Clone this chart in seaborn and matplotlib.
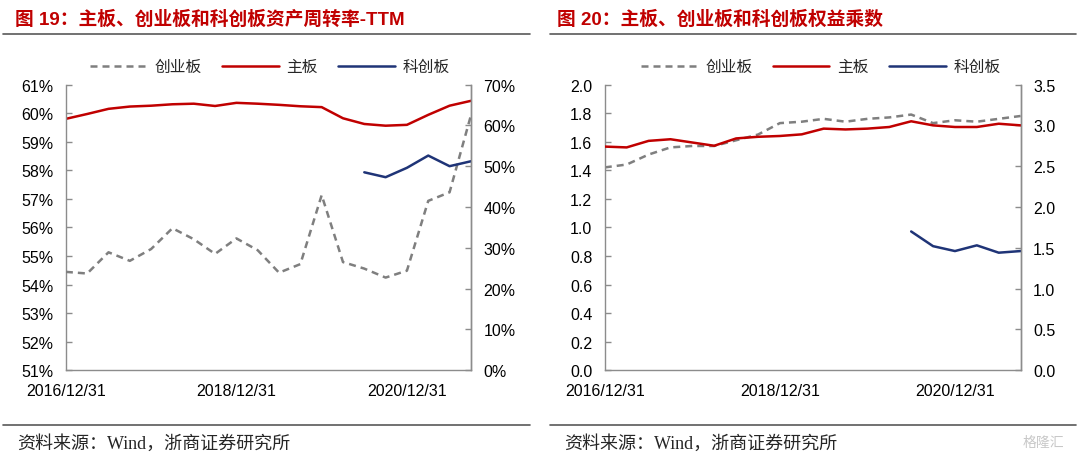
import numpy as np
import pandas as pd
import matplotlib
matplotlib.use("Agg")
import matplotlib.pyplot as plt
from matplotlib.lines import Line2D
from matplotlib.ticker import FuncFormatter
import seaborn as sns

# -------------------------------------------------
# 1. DATA (quarterly, 2016/12/31 - 2021/09/30)
# -------------------------------------------------
quarters = ["2016/12/31", "2017/03/31", "2017/06/30", "2017/09/30",
            "2017/12/31", "2018/03/31", "2018/06/30", "2018/09/30",
            "2018/12/31", "2019/03/31", "2019/06/30", "2019/09/30",
            "2019/12/31", "2020/03/31", "2020/06/30", "2020/09/30",
            "2020/12/31", "2021/03/31", "2021/06/30", "2021/09/30"]
tick_labels = ["2016/12/31", "2018/12/31", "2020/12/31"]

# asset turnover TTM (%)
main_turnover = [59.80, 59.97, 60.15, 60.23, 60.26, 60.31, 60.33, 60.25, 60.36, 60.33,
                 60.29, 60.24, 60.21, 59.82, 59.62, 59.56, 59.59, 59.94, 60.26, 60.43]
gem_turnover = [24.1, 23.7, 28.9, 26.8, 29.7, 34.8, 32.1, 28.5, 32.3, 29.4,
                23.9, 26.0, 42.9, 26.5, 24.9, 22.7, 24.4, 41.5, 43.6, 62.4]
star_turnover = [np.nan] * 14 + [48.5, 47.3, 49.6, 52.6, 50.0, 51.2]

# equity multiplier
main_em = [2.74, 2.73, 2.81, 2.83, 2.79, 2.75, 2.84, 2.86, 2.87, 2.89,
           2.96, 2.95, 2.96, 2.98, 3.05, 3.00, 2.98, 2.98, 3.02, 3.00]
gem_em = [1.42, 1.44, 1.51, 1.56, 1.57, 1.57, 1.61, 1.65, 1.73, 1.74,
          1.76, 1.74, 1.76, 1.77, 1.79, 1.73, 1.75, 1.74, 1.76, 1.78]
star_em = [np.nan] * 14 + [1.70, 1.52, 1.46, 1.53, 1.44, 1.46]

# -------------------------------------------------
# 2. STYLE
# -------------------------------------------------
sns.set_theme(style="white")
plt.rcParams["font.family"] = ["Liberation Sans", "Noto Sans CJK SC", "DejaVu Sans"]

RED = "#C00000"
NAVY = "#1F3477"
GRAY = "#7F7F7F"
SPINE = "#8C8C8C"
CJK = ["Noto Sans CJK SC", "DejaVu Sans"]

pos = list(range(len(quarters)))
df = pd.DataFrame({"pos": pos, "quarter": quarters,
                   "main_t": main_turnover, "gem_t": gem_turnover, "star_t": star_turnover,
                   "main_e": main_em, "gem_e": gem_em, "star_e": star_em})

fig = plt.figure(figsize=(10.8, 4.6), dpi=100)
ax_l = fig.add_axes([0.061, 0.193, 0.375, 0.621])
ax_r = fig.add_axes([0.560, 0.193, 0.385, 0.621])


def style_axes(ax, ax2):
    for a in (ax, ax2):
        for side in ["left", "right", "bottom"]:
            a.spines[side].set_color(SPINE)
            a.spines[side].set_linewidth(1.0)
        a.spines["top"].set_visible(False)
        a.tick_params(axis="both", direction="in", length=4, width=1,
                      color=SPINE, labelsize=11.5, labelcolor="black")
    ax.tick_params(axis="y", pad=9)
    ax2.tick_params(axis="y", pad=9)
    ax.tick_params(axis="x", pad=9)
    ax.set_xlim(0, len(quarters) - 1)
    ax.set_xticks([quarters.index(t) for t in tick_labels])
    ax.set_xticklabels(tick_labels)
    ax.set_xlabel("")
    ax.set_ylabel("")
    ax2.set_ylabel("")
    ax2.spines["left"].set_visible(False)
    ax2.spines["bottom"].set_visible(False)


# -------------------------------------------------
# 3. LEFT: ASSET TURNOVER
# -------------------------------------------------
ax_l2 = ax_l.twinx()
sns.lineplot(data=df, x="pos", y="main_t", ax=ax_l, color=RED, lw=1.8)
sns.lineplot(data=df, x="pos", y="gem_t", ax=ax_l2, color=GRAY, lw=1.8)
ax_l2.lines[-1].set_dashes([2.8, 2.0])
sns.lineplot(data=df.dropna(subset=["star_t"]), x="pos", y="star_t", ax=ax_l2, color=NAVY, lw=1.8)

ax_l.set_ylim(51, 61)
ax_l.set_yticks(range(51, 62))
ax_l.yaxis.set_major_formatter(FuncFormatter(lambda v, p: f"{v:.0f}%"))
ax_l2.set_ylim(0, 70)
ax_l2.set_yticks(range(0, 71, 10))
ax_l2.yaxis.set_major_formatter(FuncFormatter(lambda v, p: f"{v:.0f}%"))
style_axes(ax_l, ax_l2)

# -------------------------------------------------
# 4. RIGHT: EQUITY MULTIPLIER
# -------------------------------------------------
ax_r2 = ax_r.twinx()
sns.lineplot(data=df, x="pos", y="gem_e", ax=ax_r, color=GRAY, lw=1.8)
ax_r.lines[-1].set_dashes([2.8, 2.0])
sns.lineplot(data=df, x="pos", y="main_e", ax=ax_r2, color=RED, lw=1.8)
sns.lineplot(data=df.dropna(subset=["star_e"]), x="pos", y="star_e", ax=ax_r2, color=NAVY, lw=1.8)

ax_r.set_ylim(0, 2.0)
ax_r.set_yticks(np.arange(0, 2.01, 0.2))
ax_r.yaxis.set_major_formatter(FuncFormatter(lambda v, p: f"{v:.1f}"))
ax_r2.set_ylim(0, 3.5)
ax_r2.set_yticks(np.arange(0, 3.51, 0.5))
ax_r2.yaxis.set_major_formatter(FuncFormatter(lambda v, p: f"{v:.1f}"))
style_axes(ax_r, ax_r2)

# -------------------------------------------------
# 5. LEGENDS, TITLES, RULES, SOURCES
# -------------------------------------------------
handles = [Line2D([], [], color=GRAY, lw=1.8, dashes=[2.8, 2.0]),
           Line2D([], [], color=RED, lw=1.8),
           Line2D([], [], color=NAVY, lw=1.8)]
names = ["创业板", "主板", "科创板"]
for cx in (0.250, 0.760):
    fig.legend(handles, names, loc="center", bbox_to_anchor=(cx, 0.853), ncol=3,
               frameon=False, handlelength=3.6, handletextpad=0.5, columnspacing=1.3,
               prop={"family": CJK, "size": 11.3})

titles = [(0.014, "图 19：主板、创业板和科创板资产周转率-TTM"),
          (0.516, "图 20：主板、创业板和科创板权益乘数")]
for x, t in titles:
    fig.text(x, 0.958, t, color=RED, fontsize=13.5, fontweight="bold",
             family=["Liberation Sans", "Noto Sans CJK SC"], va="center", ha="left")

for x0, x1 in ((0.003, 0.491), (0.509, 0.996)):
    fig.add_artist(Line2D([x0, x1], [0.923, 0.923], color="#595959", lw=1.2))
    fig.add_artist(Line2D([x0, x1], [0.074, 0.074], color="#595959", lw=1.2))

for x in (0.016, 0.522):
    fig.text(x, 0.036, "资料来源：Wind，浙商证券研究所", fontsize=13,
             family=["Liberation Serif", "Noto Sans CJK SC"], va="center", ha="left")

fig.text(0.985, 0.036, "格隆汇", fontsize=10, color="#C8C8C8",
         family=CJK, va="center", ha="right")

fig.savefig("out.png", dpi=100)
